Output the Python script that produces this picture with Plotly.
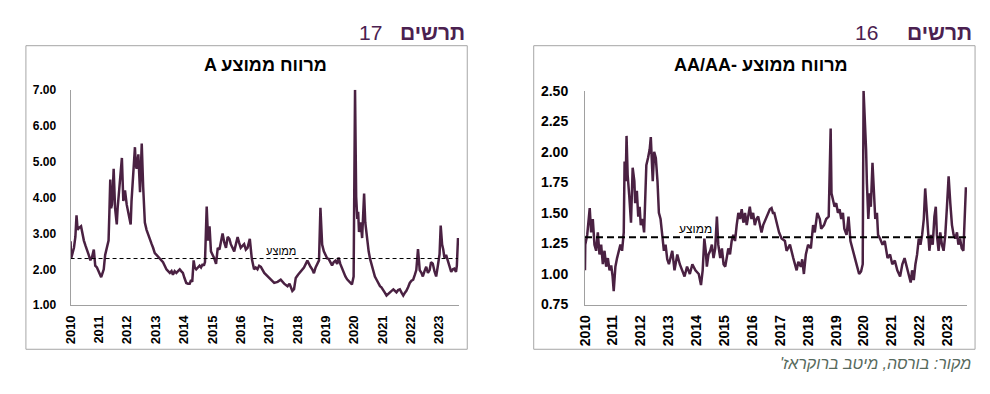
import plotly.graph_objects as go

# ---------------- data ----------------
years = list(range(2010, 2024))
tick_labels = [str(y) for y in years]

# Chart 17 - average spread, A rating (time in fractional years)
a_time = [2010.00, 2010.02, 2010.07, 2010.12, 2010.17, 2010.21, 2010.25, 2010.29, 2010.37, 2010.42,
          2010.47, 2010.53, 2010.58, 2010.64, 2010.70, 2010.76, 2010.82, 2010.87, 2010.93, 2010.99,
          2011.04, 2011.08, 2011.13, 2011.17, 2011.22, 2011.28, 2011.34, 2011.37, 2011.40, 2011.43,
          2011.46, 2011.49, 2011.52, 2011.57, 2011.60, 2011.63, 2011.66, 2011.69, 2011.75, 2011.81,
          2011.86, 2011.92, 2011.98, 2012.04, 2012.12, 2012.15, 2012.19, 2012.27, 2012.30, 2012.33,
          2012.39, 2012.45, 2012.48, 2012.51, 2012.56, 2012.62, 2012.68, 2012.74, 2012.80, 2012.86,
          2012.91, 2012.97, 2013.03, 2013.09, 2013.15, 2013.20, 2013.26, 2013.32, 2013.38, 2013.44,
          2013.50, 2013.56, 2013.61, 2013.67, 2013.73, 2013.79, 2013.85, 2013.90, 2013.96, 2014.02,
          2014.08, 2014.14, 2014.20, 2014.25, 2014.29, 2014.34, 2014.38, 2014.43, 2014.49, 2014.55,
          2014.60, 2014.66, 2014.70, 2014.74, 2014.80, 2014.82, 2014.85, 2014.90, 2014.95, 2015.01,
          2015.07, 2015.13, 2015.19, 2015.25, 2015.30, 2015.36, 2015.42, 2015.48, 2015.54, 2015.60,
          2015.65, 2015.71, 2015.77, 2015.83, 2015.89, 2015.94, 2016.00, 2016.06, 2016.12, 2016.18,
          2016.24, 2016.32, 2016.36, 2016.39, 2016.43, 2016.47, 2016.53, 2016.59, 2016.65, 2016.71,
          2016.83, 2016.95, 2017.06, 2017.18, 2017.30, 2017.41, 2017.53, 2017.65, 2017.72, 2017.82,
          2017.88, 2017.94, 2018.02, 2018.11, 2018.23, 2018.35, 2018.40, 2018.46, 2018.52, 2018.58,
          2018.64, 2018.70, 2018.76, 2018.81, 2018.84, 2018.87, 2018.93, 2018.99, 2019.05, 2019.10,
          2019.16, 2019.22, 2019.28, 2019.34, 2019.40, 2019.45, 2019.51, 2019.57, 2019.63, 2019.69,
          2019.75, 2019.80, 2019.86, 2019.92, 2019.98, 2020.01, 2020.03, 2020.05, 2020.07, 2020.11,
          2020.14, 2020.17, 2020.23, 2020.28, 2020.32, 2020.35, 2020.39, 2020.43, 2020.46, 2020.51,
          2020.56, 2020.62, 2020.67, 2020.73, 2020.79, 2020.85, 2020.91, 2020.96, 2021.02, 2021.08,
          2021.14, 2021.20, 2021.26, 2021.32, 2021.38, 2021.44, 2021.49, 2021.55, 2021.61, 2021.67,
          2021.73, 2021.79, 2021.84, 2021.90, 2021.96, 2022.02, 2022.08, 2022.14, 2022.19, 2022.25,
          2022.31, 2022.37, 2022.42, 2022.48, 2022.54, 2022.60, 2022.66, 2022.71, 2022.77, 2022.83,
          2022.89, 2022.95, 2023.01, 2023.05, 2023.10, 2023.14, 2023.18, 2023.24, 2023.30, 2023.36,
          2023.42, 2023.48, 2023.53, 2023.59, 2023.62, 2023.66]
a_spread = [2.78, 2.30, 2.45, 2.60, 2.90, 3.50, 3.10, 3.15, 3.20, 2.95,
            2.80, 2.65, 2.50, 2.40, 2.25, 2.35, 2.55, 2.10, 2.05, 1.95,
            1.85, 1.78, 1.90, 2.00, 2.40, 2.60, 2.80, 3.60, 4.50, 3.70,
            3.80, 4.20, 4.80, 3.70, 3.50, 3.25, 3.70, 4.00, 4.70, 5.10,
            3.90, 4.20, 3.80, 3.60, 3.25, 3.90, 4.40, 5.40, 4.90, 4.80,
            5.20, 4.15, 4.80, 5.50, 4.30, 3.30, 3.10, 2.95, 2.80, 2.70,
            2.60, 2.45, 2.40, 2.35, 2.30, 2.25, 2.20, 2.10, 2.00, 1.95,
            1.90, 1.95, 1.85, 1.95, 1.90, 1.95, 2.00, 1.95, 1.90, 1.75,
            1.62, 1.60, 1.60, 1.70, 1.65, 2.25, 2.05, 2.00, 2.05, 2.10,
            2.05, 2.15, 2.10, 2.20, 3.75, 3.00, 2.80, 3.20, 2.50, 2.40,
            2.30, 2.15, 2.60, 2.55, 2.80, 3.00, 2.75, 2.60, 2.90, 2.85,
            2.70, 2.60, 2.50, 2.70, 2.90, 2.75, 2.60, 2.65, 2.70, 2.55,
            2.60, 2.85, 2.50, 2.30, 2.15, 2.00, 2.05, 2.00, 2.10, 2.07,
            1.90, 1.80, 1.72, 1.62, 1.65, 1.71, 1.60, 1.53, 1.60, 1.40,
            1.45, 1.76, 1.85, 1.93, 2.05, 2.24, 2.15, 2.07, 2.00, 1.89,
            2.05, 2.16, 2.25, 3.71, 2.90, 2.69, 2.50, 2.38, 2.30, 2.29,
            2.20, 2.11, 2.20, 2.24, 2.15, 2.33, 2.15, 2.02, 1.90, 1.80,
            1.72, 1.67, 1.62, 1.58, 1.80, 4.50, 7.00, 5.50, 4.02, 3.40,
            3.60, 3.04, 3.31, 2.87, 3.50, 4.11, 3.31, 3.00, 2.69, 2.50,
            2.29, 2.10, 1.93, 1.80, 1.71, 1.60, 1.53, 1.50, 1.44, 1.35,
            1.27, 1.32, 1.36, 1.40, 1.44, 1.38, 1.36, 1.42, 1.44, 1.35,
            1.27, 1.35, 1.40, 1.50, 1.62, 1.68, 1.71, 1.85, 1.98, 2.56,
            1.98, 1.90, 1.80, 1.95, 2.07, 1.90, 1.98, 2.20, 2.16, 1.95,
            1.80, 2.10, 2.42, 3.22, 2.69, 2.55, 2.33, 2.40, 2.24, 2.10,
            1.93, 2.00, 2.02, 1.93, 2.10, 2.87]
a_average = 2.30

# Chart 16 - average spread, AA/AA- rating
aa_time = [2010.00, 2010.01, 2010.08, 2010.17, 2010.22, 2010.28, 2010.34, 2010.40, 2010.46, 2010.52,
           2010.58, 2010.64, 2010.70, 2010.76, 2010.82, 2010.88, 2010.94, 2010.99, 2011.03, 2011.09,
           2011.15, 2011.21, 2011.27, 2011.33, 2011.39, 2011.42, 2011.46, 2011.49, 2011.53, 2011.59,
           2011.65, 2011.71, 2011.77, 2011.80, 2011.86, 2011.91, 2011.96, 2012.00, 2012.06, 2012.12,
           2012.16, 2012.20, 2012.26, 2012.32, 2012.36, 2012.39, 2012.43, 2012.48, 2012.54, 2012.60,
           2012.65, 2012.71, 2012.77, 2012.83, 2012.89, 2012.95, 2013.01, 2013.13, 2013.21, 2013.31,
           2013.40, 2013.48, 2013.57, 2013.66, 2013.76, 2013.85, 2013.96, 2014.08, 2014.16, 2014.22,
           2014.28, 2014.33, 2014.37, 2014.43, 2014.49, 2014.55, 2014.61, 2014.67, 2014.73, 2014.78,
           2014.85, 2014.91, 2014.97, 2015.03, 2015.08, 2015.14, 2015.20, 2015.26, 2015.32, 2015.38,
           2015.44, 2015.50, 2015.56, 2015.62, 2015.68, 2015.74, 2015.80, 2015.86, 2015.91, 2015.97,
           2016.03, 2016.09, 2016.15, 2016.21, 2016.27, 2016.33, 2016.39, 2016.51, 2016.63, 2016.69,
           2016.74, 2016.79, 2016.87, 2016.96, 2017.05, 2017.17, 2017.23, 2017.35, 2017.47, 2017.59,
           2017.65, 2017.74, 2017.79, 2017.85, 2017.92, 2018.00, 2018.10, 2018.18, 2018.24, 2018.33,
           2018.42, 2018.47, 2018.57, 2018.65, 2018.74, 2018.77, 2018.81, 2018.84, 2018.89, 2018.95,
           2019.01, 2019.07, 2019.13, 2019.19, 2019.25, 2019.30, 2019.38, 2019.45, 2019.52, 2019.60,
           2019.68, 2019.76, 2019.83, 2019.90, 2019.96, 2019.99, 2020.04, 2020.08, 2020.11, 2020.16,
           2020.21, 2020.25, 2020.31, 2020.36, 2020.41, 2020.47, 2020.51, 2020.58, 2020.67, 2020.75,
           2020.85, 2020.94, 2021.02, 2021.11, 2021.20, 2021.30, 2021.38, 2021.46, 2021.53, 2021.62,
           2021.68, 2021.73, 2021.79, 2021.85, 2021.91, 2021.97, 2022.03, 2022.09, 2022.15, 2022.20,
           2022.24, 2022.29, 2022.35, 2022.41, 2022.47, 2022.53, 2022.58, 2022.62, 2022.68, 2022.74,
           2022.80, 2022.86, 2022.92, 2022.98, 2023.04, 2023.10, 2023.16, 2023.22, 2023.28, 2023.34,
           2023.39, 2023.45, 2023.51, 2023.57, 2023.61, 2023.66]
aa_spread = [1.03, 1.24, 1.32, 1.54, 1.34, 1.45, 1.24, 1.19, 1.34, 1.16,
             1.24, 1.08, 1.19, 1.06, 1.13, 1.03, 1.07, 0.98, 0.86, 1.06,
             1.13, 1.19, 1.24, 1.19, 1.34, 1.92, 1.76, 2.13, 1.81, 1.63,
             1.42, 1.87, 1.76, 1.58, 1.68, 1.47, 1.55, 1.40, 1.45, 1.34,
             1.58, 1.89, 1.95, 2.02, 2.12, 1.89, 1.76, 2.00, 1.95, 1.76,
             1.50, 1.45, 1.32, 1.19, 1.24, 1.12, 1.08, 1.19, 1.03, 1.16,
             1.08, 1.03, 0.98, 1.06, 1.00, 1.08, 1.03, 1.00, 0.91, 1.03,
             1.29, 1.19, 1.06, 1.16, 1.19, 1.24, 1.13, 1.21, 1.47, 1.24,
             1.13, 1.21, 1.08, 1.06, 1.13, 1.21, 1.16, 1.27, 1.32, 1.27,
             1.40, 1.50, 1.45, 1.53, 1.42, 1.50, 1.40, 1.47, 1.55, 1.45,
             1.50, 1.40, 1.45, 1.47, 1.40, 1.34, 1.40, 1.47, 1.53, 1.54,
             1.50, 1.50, 1.42, 1.34, 1.29, 1.27, 1.19, 1.24, 1.13, 1.03,
             1.10, 1.06, 1.12, 1.00, 1.16, 1.24, 1.21, 1.40, 1.34, 1.50,
             1.45, 1.37, 1.40, 1.45, 1.47, 1.71, 2.19, 1.66, 1.61, 1.55,
             1.58, 1.50, 1.53, 1.45, 1.50, 1.37, 1.32, 1.47, 1.27, 1.21,
             1.13, 1.06, 1.00, 1.02, 1.08, 2.50, 2.29, 2.02, 1.74, 1.45,
             1.66, 1.55, 1.91, 1.61, 1.45, 1.50, 1.32, 1.29, 1.24, 1.27,
             1.13, 1.16, 1.08, 1.11, 1.03, 0.98, 1.08, 1.13, 1.06, 0.98,
             0.93, 1.03, 0.95, 1.08, 1.16, 1.29, 1.24, 1.32, 1.45, 1.70,
             1.55, 1.34, 1.19, 1.32, 1.24, 1.47, 1.55, 1.32, 1.19, 1.34,
             1.24, 1.19, 1.32, 1.55, 1.80, 1.58, 1.40, 1.32, 1.29, 1.34,
             1.24, 1.29, 1.21, 1.19, 1.50, 1.71]
aa_average = 1.30

a_ticks = [1, 2, 3, 4, 5, 6, 7]
aa_ticks = [0.75, 1.00, 1.25, 1.50, 1.75, 2.00, 2.25, 2.50]

header_word = "תרשים"
left_number = "17"
right_number = "16"
left_title = "A מרווח ממוצע"          # visual order: A on the left
right_title = "AA/AA- מרווח ממוצע"
avg_label = "ממוצע"
source_text = "\u200fמקור: בורסה, מיטב ברוקראז'\u200f"

# ---------------- styling ----------------
PAGE_W, PAGE_H = 990, 394
BODY_MARGIN = 8                     # default page margin around the plot div
W, H = PAGE_W - 2 * BODY_MARGIN, PAGE_H - 2 * BODY_MARGIN
LINE = "#4a2142"
AXIS = "#a0a0a0"
PURPLE = "#4b2150"
FONT = "Liberation Sans, Arial, sans-serif"


def px(x):
    """page pixel x -> paper fraction"""
    return (x - BODY_MARGIN) / W


def py(y):
    """page pixel y -> paper fraction"""
    return 1 - (y - BODY_MARGIN) / H


fig = go.Figure()

fig.add_trace(go.Scatter(x=a_time, y=a_spread, mode="lines",
                         line=dict(color=LINE, width=2.5), xaxis="x", yaxis="y",
                         showlegend=False, hoverinfo="skip"))
fig.add_trace(go.Scatter(x=[a_time[0], a_time[-1]], y=[a_average, a_average], mode="lines",
                         line=dict(color="#000000", width=1, dash="4px,3px"), xaxis="x", yaxis="y",
                         showlegend=False, hoverinfo="skip"))

fig.add_trace(go.Scatter(x=aa_time, y=aa_spread, mode="lines",
                         line=dict(color=LINE, width=2.5), xaxis="x2", yaxis="y2",
                         showlegend=False, hoverinfo="skip"))
fig.add_trace(go.Scatter(x=[aa_time[0], aa_time[-1]], y=[aa_average, aa_average], mode="lines",
                         line=dict(color="#000000", width=2, dash="7px,4px"), xaxis="x2", yaxis="y2",
                         showlegend=False, hoverinfo="skip"))

xr = [2010, 2023.7]

common_x = dict(range=xr, tickvals=years, ticktext=tick_labels, tickangle=-90,
                showline=True, linecolor=AXIS, linewidth=1, showgrid=False, zeroline=False,
                ticks="", fixedrange=True, ticklabelstandoff=4)
common_y = dict(showline=True, linecolor=AXIS, linewidth=1, showgrid=False, zeroline=False,
                ticks="", tickformat=".2f", fixedrange=True)

fig.update_layout(
    width=W, height=H,
    margin=dict(l=0, r=0, t=0, b=0),
    paper_bgcolor="white", plot_bgcolor="white",
    font=dict(family=FONT, color="#000000"),
    xaxis=dict(domain=[px(63), px(454.8)], anchor="y",
               tickfont=dict(size=13, family=FONT, weight="bold", color="#000"),
               **common_x),
    yaxis=dict(domain=[py(310), py(85)], anchor="x", range=[1, 7], tickvals=a_ticks,
               tickfont=dict(size=12, family=FONT, weight="bold", color="#000"),
               ticklabelstandoff=11, **common_y),
    xaxis2=dict(domain=[px(581.7), px(966.9)], anchor="y2",
                tickfont=dict(size=14, family=FONT, weight="bold", color="#000"),
                **common_x),
    yaxis2=dict(domain=[py(309.3), py(86)], anchor="x2", range=[0.75, 2.5], tickvals=aa_ticks,
                tickfont=dict(size=14, family=FONT, weight="bold", color="#000"),
                ticklabelstandoff=13, **common_y),
)

shapes = [
    dict(type="rect", xref="paper", yref="paper", x0=px(18), x1=px(463), y0=py(356), y1=py(39),
         line=dict(color="#a6a6a6", width=1), fillcolor="rgba(0,0,0,0)", layer="below"),
    dict(type="rect", xref="paper", yref="paper", x0=px(530), x1=px(975), y0=py(356), y1=py(39),
         line=dict(color="#a6a6a6", width=1), fillcolor="rgba(0,0,0,0)", layer="below"),
]
fig.update_layout(shapes=shapes)

ann = []
# headers
ann.append(dict(text="<b>" + header_word + "</b>", x=px(463), y=py(25), xref="paper", yref="paper",
                xanchor="right", yanchor="middle", showarrow=False,
                font=dict(size=21, color=PURPLE, family=FONT)))
ann.append(dict(text=left_number, x=px(379), y=py(25), xref="paper", yref="paper",
                xanchor="right", yanchor="middle", showarrow=False,
                font=dict(size=21, color=PURPLE, family=FONT)))
ann.append(dict(text="<b>" + header_word + "</b>", x=px(974), y=py(25), xref="paper", yref="paper",
                xanchor="right", yanchor="middle", showarrow=False,
                font=dict(size=21, color=PURPLE, family=FONT)))
ann.append(dict(text=right_number, x=px(879), y=py(25), xref="paper", yref="paper",
                xanchor="right", yanchor="middle", showarrow=False,
                font=dict(size=21, color=PURPLE, family=FONT)))
# chart titles
ann.append(dict(text="<b>" + left_title + "</b>", x=px(260), y=py(59), xref="paper", yref="paper",
                xanchor="center", yanchor="middle", showarrow=False,
                font=dict(size=18, color="#000", family=FONT)))
ann.append(dict(text="<b>" + right_title + "</b>", x=px(759), y=py(59), xref="paper", yref="paper",
                xanchor="center", yanchor="middle", showarrow=False,
                font=dict(size=18, color="#000", family=FONT)))
# average labels
ann.append(dict(text=avg_label, x=2017.41, y=a_average, xref="x", yref="y", yshift=8,
                xanchor="center", yanchor="middle", showarrow=False,
                font=dict(size=11, color="#000", family=FONT)))
ann.append(dict(text=avg_label, x=2013.96, y=aa_average, xref="x2", yref="y2", yshift=8,
                xanchor="center", yanchor="middle", showarrow=False,
                font=dict(size=12, color="#000", family=FONT)))
# source
ann.append(dict(text="<i>" + source_text + "</i>", x=px(973), y=py(371), xref="paper", yref="paper",
                xanchor="right", yanchor="middle", showarrow=False,
                font=dict(size=16, color="#56695c", family=FONT)))
fig.update_layout(annotations=ann)

fig.write_html("out.html", config={"displayModeBar": False, "staticPlot": True})
